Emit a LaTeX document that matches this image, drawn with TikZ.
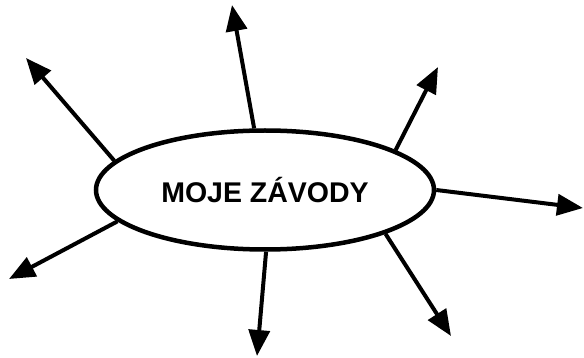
\documentclass[tikz,border=0pt]{standalone}
\usepackage{fontspec}
\setmainfont{Liberation Sans}
\usetikzlibrary{positioning,shapes.geometric,arrows.meta}

\begin{document}
\begin{tikzpicture}[
    x=1pt, y=1pt,
    topic/.style={ellipse, draw=black, line width=4.5pt, minimum width=338pt, minimum height=119pt, inner sep=0pt, font=\fontsize{28.5}{30}\selectfont\bfseries},
    line/.style={draw=black, line width=4pt, -{Triangle[length=26pt, width=21pt]}}
]
    \useasboundingbox (0,0) rectangle (584,-358);
    \node [topic] (race) at (265,-190) {MOJE ZÁVODY};

    \coordinate (t1) at (26,-58);
    \coordinate (t2) at (232,-5);
    \coordinate (t3) at (438,-67);
    \coordinate (t4) at (583,-208);
    \coordinate (t5) at (451,-336);
    \coordinate (t6) at (257,-356);
    \coordinate (t7) at (9,-279);

    \path [line] (race.169) -- (t1);
    \path [line] (race.100) -- (t2);
    \path [line] (race.17) -- (t3);
    \path [line] (race.0) -- (t4);
    \path [line] (race.-20) -- (t5);
    \path [line] (race.-89) -- (t6);
    \path [line] (race.192) -- (t7);
\end{tikzpicture}
\end{document}
